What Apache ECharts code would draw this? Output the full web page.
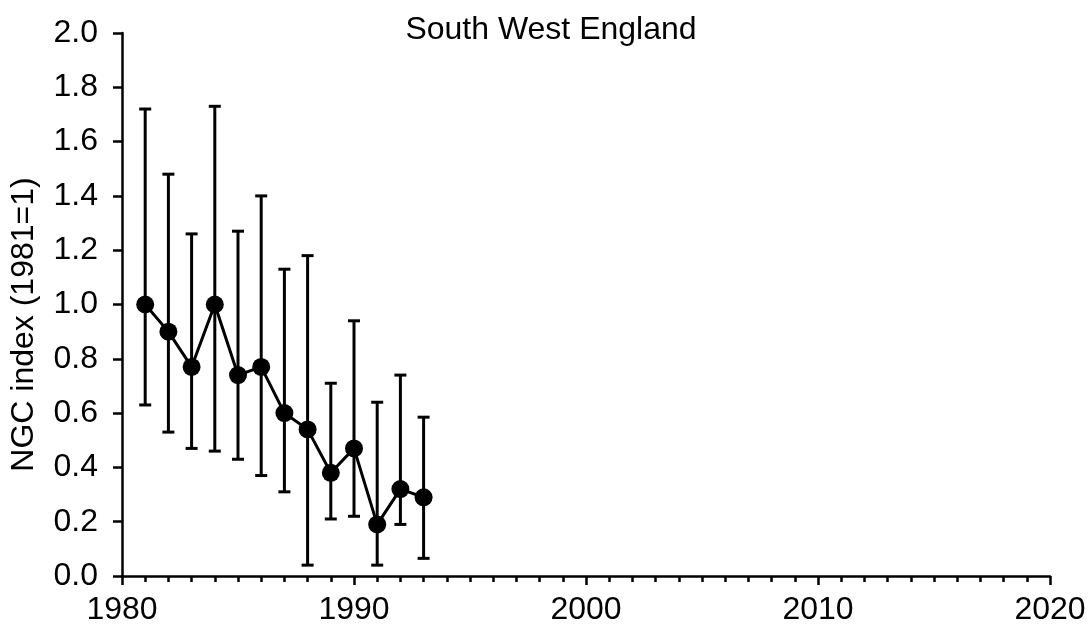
<!DOCTYPE html>
<html><head><meta charset="utf-8">
<script src="https://cdn.jsdelivr.net/npm/echarts@6/dist/echarts.min.js"></script>
<style>html,body{margin:0;padding:0;background:#fff}#c{width:1091px;height:627px}</style>
</head><body><div id="c"></div>
<script>
const years = [1981,1982,1983,1984,1985,1986,1987,1988,1989,1990,1991,1992,1993];
const index = [1.00,0.90,0.77,1.00,0.74,0.77,0.60,0.54,0.38,0.47,0.19,0.32,0.29];
const upper = [1.72,1.48,1.26,1.73,1.27,1.40,1.13,1.18,0.71,0.94,0.64,0.74,0.585];
const lower = [0.63,0.53,0.47,0.46,0.43,0.37,0.31,0.04,0.21,0.22,0.04,0.19,0.065];
const titleText = 'South West England';
const yName = 'NGC index (1981=1)';

const font = 'Liberation Sans, Arial, sans-serif';
const chart = echarts.init(document.getElementById('c'), null, {renderer:'canvas'});
chart.setOption({
  animation:false,
  backgroundColor:'#fff',
  title:{text:titleText, left:546, top:9, textAlign:'center',
    textStyle:{fontFamily:font, fontSize:32, fontWeight:'normal', color:'#000'}},
  grid:{left:121, top:33, width:929, height:543, containLabel:false},
  xAxis:{type:'value', min:1980, max:2020, interval:10,
    axisLine:{lineStyle:{color:'#000', width:2.5}},
    axisTick:{show:true, length:9, lineStyle:{color:'#000', width:2.5}},
    minorTick:{show:true, splitNumber:10, length:6, lineStyle:{color:'#000', width:2.5}},
    splitLine:{show:false},
    axisLabel:{fontFamily:font, fontSize:32, color:'#000', margin:18,
      formatter:v=>String(v)}},
  yAxis:{type:'value', min:0, max:2, interval:0.2,
    name:yName, nameLocation:'middle', nameGap:82, nameRotate:90,
    nameTextStyle:{fontFamily:font, fontSize:32, color:'#000', padding:[0,40,0,0]},
    axisLine:{show:true, lineStyle:{color:'#000', width:2.5}},
    axisTick:{show:true, length:9, lineStyle:{color:'#000', width:2.5}},
    splitLine:{show:false},
    axisLabel:{fontFamily:font, fontSize:32, color:'#000', margin:24,
      formatter:v=>v.toFixed(1)}},
  series:[
    {type:'custom', z:1,
     data: years.map((y,i)=>[y, lower[i], upper[i]]),
     renderItem:(params, api)=>{
       const x = api.value(0);
       const lo = api.coord([x, api.value(1)]);
       const hi = api.coord([x, api.value(2)]);
       const cw = 6;
       const st = {stroke:'#000', lineWidth:3};
       return {type:'group', children:[
         {type:'line', shape:{x1:lo[0], y1:lo[1], x2:hi[0], y2:hi[1]}, style:st},
         {type:'line', shape:{x1:lo[0]-cw, y1:lo[1], x2:lo[0]+cw, y2:lo[1]}, style:st},
         {type:'line', shape:{x1:hi[0]-cw, y1:hi[1], x2:hi[0]+cw, y2:hi[1]}, style:st}
       ]};
     }},
    {type:'line', z:2, data: years.map((y,i)=>[y, index[i]]),
     symbol:'circle', symbolSize:18,
     lineStyle:{color:'#000', width:3},
     itemStyle:{color:'#000'}}
  ]
});
</script></body></html>
